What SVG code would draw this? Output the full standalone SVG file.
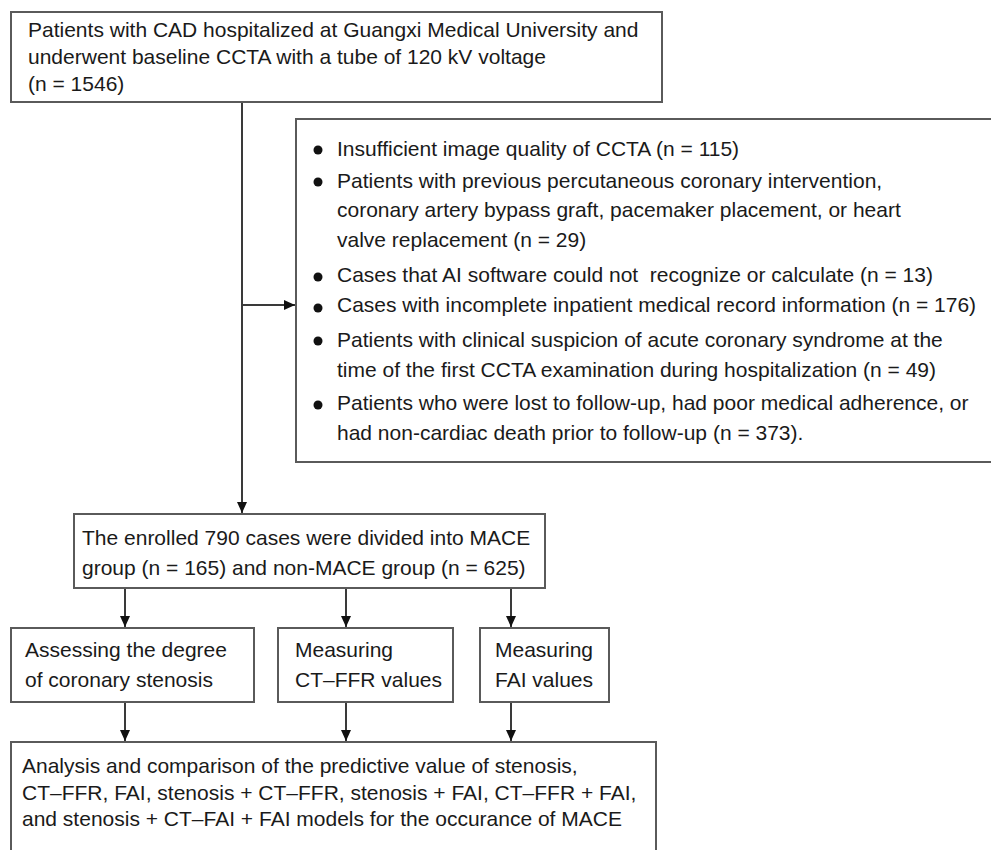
<svg xmlns="http://www.w3.org/2000/svg" width="991" height="850" viewBox="0 0 991 850">
<style>
text{font-family:"Liberation Sans",Arial,sans-serif;font-size:21px;fill:#1a1a1a;white-space:pre}
.box{fill:#fff;stroke:#5a5a5a;stroke-width:2}
.ln{stroke:#3a3a3a;stroke-width:2;fill:none}
.dot{fill:#111}
</style>
<defs>
<marker id="ah" markerUnits="userSpaceOnUse" markerWidth="12" markerHeight="10" refX="11" refY="5" orient="auto">
<path d="M0,0 L11,5 L0,10 z" fill="#111"/>
</marker>
</defs>
<rect width="991" height="850" fill="#fff"/>
<g id="connectors">
<line class="ln" x1="242" y1="102" x2="242" y2="513" marker-end="url(#ah)"/>
<line class="ln" x1="242" y1="305" x2="295" y2="305" marker-end="url(#ah)"/>
<line class="ln" x1="125" y1="588" x2="125" y2="627" marker-end="url(#ah)"/>
<line class="ln" x1="346" y1="588" x2="346" y2="627" marker-end="url(#ah)"/>
<line class="ln" x1="511" y1="588" x2="511" y2="627" marker-end="url(#ah)"/>
<line class="ln" x1="125" y1="702" x2="125" y2="741" marker-end="url(#ah)"/>
<line class="ln" x1="346" y1="702" x2="346" y2="741" marker-end="url(#ah)"/>
<line class="ln" x1="511" y1="702" x2="511" y2="741" marker-end="url(#ah)"/>
</g>
<g id="node-patients">
<rect class="box" x="11" y="12" width="651" height="90"/>
<text x="28" y="37">Patients with CAD hospitalized at Guangxi Medical University and</text>
<text x="28" y="64">underwent baseline CCTA with a tube of 120 kV voltage</text>
<text x="28" y="91">(n = 1546)</text>
</g>
<g id="node-excluded">
<rect class="box" x="296" y="119" width="710" height="343"/>
<circle class="dot" cx="318" cy="150" r="4.5"/>
<text x="337" y="156">Insufficient image quality of CCTA (n = 115)</text>
<circle class="dot" cx="318" cy="182" r="4.5"/>
<text x="337" y="188">Patients with previous percutaneous coronary intervention,</text>
<text x="337" y="217">coronary artery bypass graft, pacemaker placement, or heart</text>
<text x="337" y="247">valve replacement (n = 29)</text>
<circle class="dot" cx="318" cy="277" r="4.5"/>
<text x="337" y="282">Cases that AI software could not  recognize or calculate (n = 13)</text>
<circle class="dot" cx="318" cy="308" r="4.5"/>
<text x="337" y="312">Cases with incomplete inpatient medical record information (n = 176)</text>
<circle class="dot" cx="318" cy="341" r="4.5"/>
<text x="337" y="347">Patients with clinical suspicion of acute coronary syndrome at the</text>
<text x="337" y="377">time of the first CCTA examination during hospitalization (n = 49)</text>
<circle class="dot" cx="318" cy="405" r="4.5"/>
<text x="337" y="410">Patients who were lost to follow-up, had poor medical adherence, or</text>
<text x="337" y="440">had non-cardiac death prior to follow-up (n = 373).</text>
</g>
<g id="node-enrolled">
<rect class="box" x="74" y="514" width="471" height="74"/>
<text x="82" y="545">The enrolled 790 cases were divided into MACE</text>
<text x="82" y="575">group (n = 165) and non-MACE group (n = 625)</text>
</g>
<g id="node-stenosis">
<rect class="box" x="11" y="628" width="243" height="74"/>
<text x="25" y="657">Assessing the degree</text>
<text x="25" y="687">of coronary stenosis</text>
</g>
<g id="node-ctffr">
<rect class="box" x="278" y="628" width="175" height="74"/>
<text x="295" y="657">Measuring</text>
<text x="295" y="687">CT–FFR values</text>
</g>
<g id="node-fai">
<rect class="box" x="480" y="628" width="129" height="74"/>
<text x="495" y="657">Measuring</text>
<text x="495" y="687">FAI values</text>
</g>
<g id="node-analysis">
<rect class="box" x="11" y="742" width="645" height="130"/>
<text x="22" y="773">Analysis and comparison of the predictive value of stenosis,</text>
<text x="22" y="800">CT–FFR, FAI, stenosis + CT–FFR, stenosis + FAI, CT–FFR + FAI,</text>
<text x="22" y="826">and stenosis + CT–FAI + FAI models for the occurance of MACE</text>
</g>
</svg>
